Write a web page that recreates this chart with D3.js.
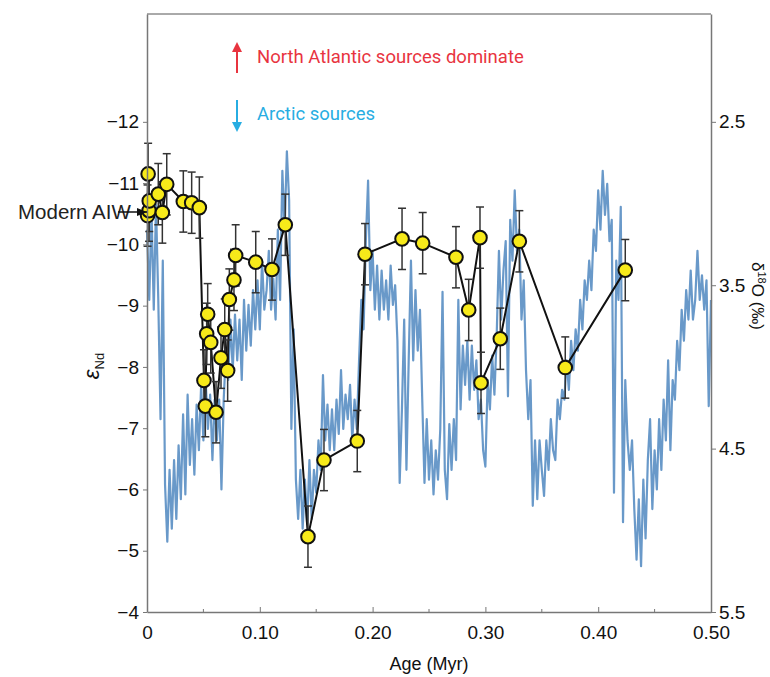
<!DOCTYPE html>
<html>
<head>
<meta charset="utf-8">
<script src="https://cdn.jsdelivr.net/npm/d3@7"></script>
<style>
  body { margin: 0; background: #fff; }
  svg text { font-family: "Liberation Sans", Arial, sans-serif; }
</style>
</head>
<body>
<div id="chart"></div>
<script>
// eNd record (age in Myr, eNd, 2 sigma)
var ndAge = [0.0005, 0.001, 0.0018, 0.002, 0.010, 0.0136, 0.0175, 0.0322, 0.0396, 0.0464,
  0.0505, 0.0517, 0.0529, 0.0538, 0.0565, 0.0612, 0.0656, 0.0689, 0.0715, 0.0730,
  0.0771, 0.0786, 0.0964, 0.1108, 0.1226, 0.1427, 0.1569, 0.1864, 0.1933, 0.2261,
  0.2444, 0.2739, 0.2852, 0.2952, 0.2961, 0.3132, 0.3301, 0.3708, 0.4240];
var ndVal = [-10.47, -11.15, -10.55, -10.71, -10.82, -10.52, -10.98, -10.70, -10.68, -10.60,
  -7.78, -7.36, -8.54, -8.86, -8.40, -7.26, -8.15, -8.61, -7.94, -9.10,
  -9.42, -9.82, -9.71, -9.59, -10.32, -5.23, -6.48, -6.79, -9.84, -10.09,
  -10.02, -9.79, -8.93, -10.11, -7.74, -8.46, -10.05, -7.99, -9.58];
var ndErr = [0.5, 0.5, 0.5, 0.5, 0.5, 0.5, 0.5, 0.5, 0.5, 0.5,
  0.5, 0.5, 0.5, 0.5, 0.5, 0.5, 0.5, 0.5, 0.5, 0.5,
  0.5, 0.5, 0.5, 0.5, 0.5, 0.5, 0.5, 0.5, 0.5, 0.5,
  0.5, 0.5, 0.5, 0.5, 0.5, 0.5, 0.5, 0.5, 0.5];

// benthic d18O stack (age in Myr, permil)
var oAge = [0.000,0.002,0.004,0.006,0.008,0.010,0.012,0.014,0.016,0.018,
  0.020,0.022,0.024,0.026,0.028,0.030,0.032,0.034,0.036,0.038,
  0.040,0.042,0.044,0.046,0.048,0.050,0.052,0.054,0.056,0.058,
  0.060,0.062,0.064,0.066,0.068,0.070,0.072,0.074,0.076,0.078,
  0.080,0.082,0.084,0.086,0.088,0.090,0.092,0.094,0.096,0.098,
  0.100,0.102,0.104,0.106,0.108,0.110,0.112,0.114,0.116,0.118,
  0.120,0.122,0.124,0.126,0.128,0.130,0.132,0.134,0.136,0.138,
  0.140,0.142,0.144,0.146,0.148,0.150,0.152,0.154,0.156,0.158,
  0.160,0.162,0.164,0.166,0.168,0.170,0.172,0.174,0.176,0.178,
  0.180,0.182,0.184,0.186,0.188,0.190,0.192,0.194,0.196,0.198,
  0.200,0.202,0.204,0.206,0.208,0.210,0.212,0.214,0.216,0.218,
  0.220,0.222,0.224,0.226,0.228,0.230,0.232,0.234,0.236,0.238,
  0.240,0.242,0.244,0.246,0.248,0.250,0.252,0.254,0.256,0.258,
  0.260,0.262,0.264,0.266,0.268,0.270,0.272,0.274,0.276,0.278,
  0.280,0.282,0.284,0.286,0.288,0.290,0.292,0.294,0.296,0.298,
  0.300,0.302,0.304,0.306,0.308,0.310,0.312,0.314,0.316,0.318,
  0.320,0.322,0.324,0.326,0.328,0.330,0.332,0.334,0.336,0.338,
  0.340,0.342,0.344,0.346,0.348,0.350,0.352,0.354,0.356,0.358,
  0.360,0.362,0.364,0.366,0.368,0.370,0.372,0.374,0.376,0.378,
  0.380,0.382,0.384,0.386,0.388,0.390,0.392,0.394,0.396,0.398,
  0.400,0.402,0.404,0.406,0.408,0.410,0.412,0.414,0.416,0.418,
  0.420,0.422,0.424,0.426,0.428,0.430,0.432,0.434,0.436,0.438,
  0.440,0.442,0.444,0.446,0.448,0.450,0.452,0.454,0.456,0.458,
  0.460,0.462,0.464,0.466,0.468,0.470,0.472,0.474,0.476,0.478,
  0.480,0.482,0.484,0.486,0.488,0.490,0.492,0.494,0.496,0.498,
  0.500];
var oVal = [3.16,3.59,3.04,3.65,3.01,3.59,4.32,3.35,4.72,5.07,
  4.63,4.99,4.57,4.93,4.48,4.81,4.29,4.78,4.17,4.60,
  4.32,4.66,4.23,4.51,4.11,4.45,4.08,4.38,4.17,4.57,
  4.20,4.45,4.20,4.75,4.20,3.90,4.08,3.71,4.02,3.68,
  3.96,3.71,4.08,3.59,3.90,3.62,3.87,3.53,3.77,3.47,
  3.77,3.35,3.65,3.53,3.29,3.65,3.46,3.71,3.16,3.59,
  2.80,3.16,2.68,2.98,4.38,3.77,4.69,4.93,4.63,4.99,
  4.69,4.96,4.57,4.93,4.63,4.77,4.45,4.63,4.05,4.45,
  4.23,4.51,4.26,4.51,4.20,4.41,4.02,4.38,4.17,4.32,
  4.11,4.45,4.20,4.38,3.96,3.59,3.77,3.23,2.86,3.53,
  3.29,3.65,3.38,3.71,3.41,3.65,3.47,3.71,3.38,3.62,
  3.50,3.84,4.71,4.26,3.71,4.63,3.96,3.35,3.96,3.53,
  3.90,3.65,4.20,4.71,4.32,4.69,4.45,4.78,4.51,4.69,
  4.38,3.54,4.63,4.81,4.35,4.63,4.32,4.57,3.59,4.26,
  3.87,4.11,3.84,4.20,3.87,4.14,3.96,4.32,4.20,4.51,
  4.61,4.08,4.26,3.93,4.17,3.81,3.29,3.71,3.41,3.23,
  4.18,3.10,3.35,2.92,3.29,3.16,3.71,3.47,4.02,4.32,
  4.08,4.85,4.45,4.81,4.45,4.63,4.79,4.45,4.63,4.32,
  4.51,4.57,4.20,4.32,4.14,4.20,3.96,4.14,3.84,4.02,
  3.77,3.90,3.59,3.77,3.47,3.59,3.35,3.53,3.16,3.29,
  2.92,3.16,2.80,3.07,2.88,3.23,3.10,4.77,3.35,3.59,
  3.02,4.95,4.08,4.45,4.63,4.45,4.87,5.18,4.81,5.22,
  4.69,5.05,4.57,4.32,4.87,4.51,4.75,4.32,4.63,4.20,
  4.45,3.96,4.51,4.08,4.20,3.84,4.02,3.65,3.84,3.53,
  3.71,3.41,3.71,3.59,3.29,3.59,3.44,3.65,3.47,4.24,
  3.59];

var xTicks = [0, 0.1, 0.2, 0.3, 0.4, 0.5];
var xMinor = [0.05, 0.15, 0.25, 0.35, 0.45];
var yTicks = [-12, -11, -10, -9, -8, -7, -6, -5, -4];
var y2Ticks = [2.5, 3.5, 4.5, 5.5];

var W = 770, H = 677;
var margin = {top: 14, right: 59, bottom: 65, left: 147},
    width = W - margin.left - margin.right,
    height = H - margin.top - margin.bottom;

var x = d3.scaleLinear().domain([0, 0.5]).range([0, width]);
var y = d3.scaleLinear().domain([-4, -13.76]).range([height, 0]);
var y2 = d3.scaleLinear().domain([5.5, 1.84]).range([height, 0]);

var svg = d3.select("#chart").append("svg")
    .attr("width", W)
    .attr("height", H);

var g = svg.append("g")
    .attr("transform", "translate(" + margin.left + "," + margin.top + ")");

// d18O curve
var oData = oAge.map(function(a, i) { return {age: a, v: oVal[i]}; });
g.append("path")
    .datum(oData)
    .attr("fill", "none")
    .attr("stroke", "#4f87bf")
    .attr("stroke-width", 2.2)
    .attr("stroke-opacity", 0.85)
    .attr("stroke-linejoin", "round")
    .attr("d", d3.line().x(function(d) { return x(d.age); }).y(function(d) { return y2(d.v); }));

// eNd
var ndData = ndAge.map(function(a, i) { return {age: a, v: ndVal[i], e: ndErr[i]}; });

g.append("path")
    .datum(ndData)
    .attr("fill", "none")
    .attr("stroke", "#111")
    .attr("stroke-width", 2)
    .attr("d", d3.line().x(function(d) { return x(d.age); }).y(function(d) { return y(d.v); }));

var eb = g.selectAll(".err")
    .data(ndData)
  .enter().append("g")
    .attr("class", "err")
    .attr("stroke", "#333")
    .attr("stroke-width", 1.5);
eb.append("line")
    .attr("x1", function(d) { return x(d.age); })
    .attr("x2", function(d) { return x(d.age); })
    .attr("y1", function(d) { return y(d.v - d.e); })
    .attr("y2", function(d) { return y(d.v + d.e); });
eb.append("line")
    .attr("x1", function(d) { return x(d.age) - 4; })
    .attr("x2", function(d) { return x(d.age) + 4; })
    .attr("y1", function(d) { return y(d.v - d.e); })
    .attr("y2", function(d) { return y(d.v - d.e); });
eb.append("line")
    .attr("x1", function(d) { return x(d.age) - 4; })
    .attr("x2", function(d) { return x(d.age) + 4; })
    .attr("y1", function(d) { return y(d.v + d.e); })
    .attr("y2", function(d) { return y(d.v + d.e); });

g.selectAll(".dot")
    .data(ndData)
  .enter().append("circle")
    .attr("class", "dot")
    .attr("cx", function(d) { return x(d.age); })
    .attr("cy", function(d) { return y(d.v); })
    .attr("r", 6.8)
    .attr("fill", "#f7ea1a")
    .attr("stroke", "#111")
    .attr("stroke-width", 2);

// frame
g.append("line").attr("x1", 0).attr("x2", width).attr("y1", 0).attr("y2", 0)
    .attr("stroke", "#555").attr("stroke-width", 1);

// axes
var axisColor = "#777";
var gx = g.append("g").attr("transform", "translate(0," + height + ")")
    .call(d3.axisBottom(x).tickValues(xTicks).tickSizeInner(-5).tickSizeOuter(0).tickPadding(14)
      .tickFormat(function(d) { return d === 0 ? "0" : d3.format(".2f")(d); }));
gx.selectAll(".minor").data(xMinor).enter().append("line")
    .attr("x1", function(d) { return x(d); }).attr("x2", function(d) { return x(d); })
    .attr("y1", 0).attr("y2", -3).attr("stroke", axisColor);

var gy = g.append("g")
    .call(d3.axisLeft(y).tickValues(yTicks).tickSizeInner(4).tickSizeOuter(0).tickPadding(4)
      .tickFormat(function(d) { return "\u2212" + Math.abs(d); }));

var gy2 = g.append("g").attr("transform", "translate(" + width + ",0)")
    .call(d3.axisRight(y2).tickValues(y2Ticks).tickSizeInner(5).tickSizeOuter(0).tickPadding(3)
      .tickFormat(d3.format(".1f")));

[gx, gy, gy2].forEach(function(a) {
  a.select(".domain").attr("stroke", axisColor).attr("stroke-width", 1.5);
  a.selectAll(".tick line").attr("stroke", axisColor);
  a.selectAll(".tick text").attr("fill", "#111").style("font-size", "19px");
});

// axis titles
svg.append("text")
    .attr("x", margin.left + width / 2)
    .attr("y", 670)
    .attr("text-anchor", "middle")
    .style("font-size", "18px")
    .attr("fill", "#111")
    .text("Age (Myr)");

var ylab = svg.append("text")
    .attr("transform", "translate(99,366) rotate(-90)")
    .attr("text-anchor", "middle")
    .attr("fill", "#111");
ylab.append("tspan").style("font-size", "22px").style("font-style", "italic").text("\u03b5");
ylab.append("tspan").style("font-size", "13px").attr("dy", 5).text("Nd");

var y2lab = svg.append("text")
    .attr("transform", "translate(752,296) rotate(90)")
    .attr("text-anchor", "middle")
    .style("font-size", "17px")
    .attr("fill", "#111");
y2lab.append("tspan").text("\u03b4");
y2lab.append("tspan").style("font-size", "11px").attr("dy", -6).text("18");
y2lab.append("tspan").attr("dy", 6).text("O (\u2030)");

// Modern AIW marker
svg.append("defs").append("marker")
    .attr("id", "ah")
    .attr("viewBox", "0 0 10 10")
    .attr("refX", 10).attr("refY", 5)
    .attr("markerWidth", 7).attr("markerHeight", 7)
    .attr("orient", "auto")
  .append("path").attr("d", "M0,1L10,5L0,9z").attr("fill", "#111");

svg.append("text")
    .attr("x", 18).attr("y", 219)
    .style("font-size", "20.5px")
    .attr("fill", "#222")
    .text("Modern AIW");
svg.append("line")
    .attr("x1", 118).attr("x2", 147)
    .attr("y1", 212).attr("y2", 212)
    .attr("stroke", "#111").attr("stroke-width", 1.5)
    .attr("marker-end", "url(#ah)");

// source legend
var legend = [
  {label: "North Atlantic sources dominate", color: "#e8343f", y0: 73, y1: 42, ty: 63},
  {label: "Arctic sources", color: "#27ade2", y0: 100, y1: 132, ty: 120}
];
legend.forEach(function(l) {
  var dir = l.y1 < l.y0 ? 1 : -1;
  svg.append("line")
      .attr("x1", 237).attr("x2", 237)
      .attr("y1", l.y0).attr("y2", l.y1 + dir * 7)
      .attr("stroke", l.color).attr("stroke-width", 2);
  svg.append("path")
      .attr("d", "M" + 237 + "," + l.y1 + "L" + 232 + "," + (l.y1 + dir * 10) + "L" + 242 + "," + (l.y1 + dir * 10) + "Z")
      .attr("fill", l.color);
  svg.append("text")
      .attr("x", 257).attr("y", l.ty)
      .style("font-family", "Roboto, sans-serif")
      .style("font-size", "18.5px")
      .attr("fill", l.color)
      .text(l.label);
});
</script>
</body>
</html>
